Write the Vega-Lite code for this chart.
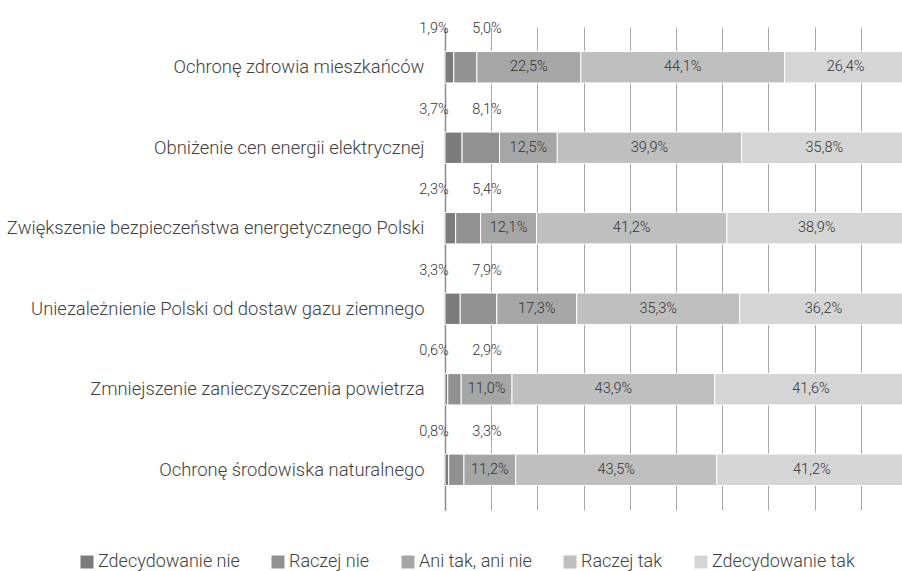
{
  "$schema": "https://vega.github.io/schema/vega-lite/v6.json",
  "autosize": "none",
  "width": 457,
  "height": 483,
  "padding": {"left": 445, "top": 27, "right": 0, "bottom": 61},
  "background": "white",
  "config": {
    "locale": {"number": {"decimal": ",", "thousands": " ", "grouping": [3], "currency": ["", " zł"]}},
    "font": "Roboto",
    "view": {"stroke": null}
  },
  "data": {
    "values": [
      {"cat": "Ochronę zdrowia mieszkańców", "answer": "Zdecydowanie nie", "k": 1, "v": 0.019},
      {"cat": "Ochronę zdrowia mieszkańców", "answer": "Raczej nie", "k": 2, "v": 0.050},
      {"cat": "Ochronę zdrowia mieszkańców", "answer": "Ani tak, ani nie", "k": 3, "v": 0.225},
      {"cat": "Ochronę zdrowia mieszkańców", "answer": "Raczej tak", "k": 4, "v": 0.441},
      {"cat": "Ochronę zdrowia mieszkańców", "answer": "Zdecydowanie tak", "k": 5, "v": 0.264},
      {"cat": "Obniżenie cen energii elektrycznej", "answer": "Zdecydowanie nie", "k": 1, "v": 0.037},
      {"cat": "Obniżenie cen energii elektrycznej", "answer": "Raczej nie", "k": 2, "v": 0.081},
      {"cat": "Obniżenie cen energii elektrycznej", "answer": "Ani tak, ani nie", "k": 3, "v": 0.125},
      {"cat": "Obniżenie cen energii elektrycznej", "answer": "Raczej tak", "k": 4, "v": 0.399},
      {"cat": "Obniżenie cen energii elektrycznej", "answer": "Zdecydowanie tak", "k": 5, "v": 0.358},
      {"cat": "Zwiększenie bezpieczeństwa energetycznego Polski", "answer": "Zdecydowanie nie", "k": 1, "v": 0.023},
      {"cat": "Zwiększenie bezpieczeństwa energetycznego Polski", "answer": "Raczej nie", "k": 2, "v": 0.054},
      {"cat": "Zwiększenie bezpieczeństwa energetycznego Polski", "answer": "Ani tak, ani nie", "k": 3, "v": 0.121},
      {"cat": "Zwiększenie bezpieczeństwa energetycznego Polski", "answer": "Raczej tak", "k": 4, "v": 0.412},
      {"cat": "Zwiększenie bezpieczeństwa energetycznego Polski", "answer": "Zdecydowanie tak", "k": 5, "v": 0.389},
      {"cat": "Uniezależnienie Polski od dostaw gazu ziemnego", "answer": "Zdecydowanie nie", "k": 1, "v": 0.033},
      {"cat": "Uniezależnienie Polski od dostaw gazu ziemnego", "answer": "Raczej nie", "k": 2, "v": 0.079},
      {"cat": "Uniezależnienie Polski od dostaw gazu ziemnego", "answer": "Ani tak, ani nie", "k": 3, "v": 0.173},
      {"cat": "Uniezależnienie Polski od dostaw gazu ziemnego", "answer": "Raczej tak", "k": 4, "v": 0.353},
      {"cat": "Uniezależnienie Polski od dostaw gazu ziemnego", "answer": "Zdecydowanie tak", "k": 5, "v": 0.362},
      {"cat": "Zmniejszenie zanieczyszczenia powietrza", "answer": "Zdecydowanie nie", "k": 1, "v": 0.006},
      {"cat": "Zmniejszenie zanieczyszczenia powietrza", "answer": "Raczej nie", "k": 2, "v": 0.029},
      {"cat": "Zmniejszenie zanieczyszczenia powietrza", "answer": "Ani tak, ani nie", "k": 3, "v": 0.110},
      {"cat": "Zmniejszenie zanieczyszczenia powietrza", "answer": "Raczej tak", "k": 4, "v": 0.439},
      {"cat": "Zmniejszenie zanieczyszczenia powietrza", "answer": "Zdecydowanie tak", "k": 5, "v": 0.416},
      {"cat": "Ochronę środowiska naturalnego", "answer": "Zdecydowanie nie", "k": 1, "v": 0.008},
      {"cat": "Ochronę środowiska naturalnego", "answer": "Raczej nie", "k": 2, "v": 0.033},
      {"cat": "Ochronę środowiska naturalnego", "answer": "Ani tak, ani nie", "k": 3, "v": 0.112},
      {"cat": "Ochronę środowiska naturalnego", "answer": "Raczej tak", "k": 4, "v": 0.435},
      {"cat": "Ochronę środowiska naturalnego", "answer": "Zdecydowanie tak", "k": 5, "v": 0.412}
    ]
  },
  "transform": [
    {"stack": "v", "groupby": ["cat"], "sort": [{"field": "k", "order": "ascending"}], "as": ["v0", "v1"]},
    {"calculate": "(datum.v0 + datum.v1) / 2", "as": "vmid"}
  ],
  "encoding": {
    "y": {
      "field": "cat",
      "type": "nominal",
      "sort": null,
      "scale": {"paddingInner": 0.61, "paddingOuter": 0.305},
      "axis": {
        "title": null,
        "domain": true,
        "domainColor": "#8c8c8c",
        "domainWidth": 1.5,
        "ticks": false,
        "grid": false,
        "labelFontSize": 18.4,
        "labelFontWeight": 300,
        "labelColor": "#404040",
        "labelPadding": 21,
        "labelLimit": 0
      }
    }
  },
  "layer": [
    {
      "mark": {"type": "bar", "stroke": "white", "strokeWidth": 1, "clip": true},
      "encoding": {
        "x": {
          "field": "v0",
          "type": "quantitative",
          "scale": {"domain": [0, 0.989], "nice": false, "zero": true},
          "axis": {
            "title": null,
            "labels": false,
            "ticks": false,
            "domain": false,
            "grid": true,
            "gridColor": "#a6a6a6",
            "gridWidth": 1,
            "values": [0, 0.1, 0.2, 0.3, 0.4, 0.5, 0.6, 0.7, 0.8, 0.9]
          }
        },
        "x2": {"field": "v1"},
        "color": {
          "field": "answer",
          "type": "nominal",
          "scale": {
            "domain": ["Zdecydowanie nie", "Raczej nie", "Ani tak, ani nie", "Raczej tak", "Zdecydowanie tak"],
            "range": ["#7b7b7b", "#919191", "#a6a6a6", "#bfbfbf", "#d5d5d5"]
          },
          "legend": {
            "title": null,
            "orient": "none",
            "legendX": -367,
            "legendY": 526,
            "direction": "horizontal",
            "symbolType": "square",
            "symbolSize": 169,
            "symbolStrokeWidth": 0,
            "labelFontSize": 18,
            "labelFontWeight": 300,
            "labelColor": "#404040",
            "labelOffset": 2,
            "columnPadding": 29,
            "labelLimit": 0
          }
        }
      }
    },
    {
      "transform": [{"filter": "datum.k >= 3"}],
      "mark": {"type": "text", "fontSize": 14.5, "fontWeight": 300, "color": "#333333", "baseline": "middle", "align": "center"},
      "encoding": {
        "x": {"field": "vmid", "type": "quantitative"},
        "text": {"field": "v", "type": "quantitative", "format": ".1%"}
      }
    },
    {
      "transform": [{"filter": "datum.k == 1"}],
      "mark": {"type": "text", "fontSize": 14.5, "fontWeight": 300, "color": "#333333", "baseline": "middle", "align": "center", "dx": -11, "dy": -38},
      "encoding": {
        "x": {"datum": 0, "type": "quantitative"},
        "text": {"field": "v", "type": "quantitative", "format": ".1%"}
      }
    },
    {
      "transform": [{"filter": "datum.k == 2"}],
      "mark": {"type": "text", "fontSize": 14.5, "fontWeight": 300, "color": "#333333", "baseline": "middle", "align": "center", "dx": 42, "dy": -38},
      "encoding": {
        "x": {"datum": 0, "type": "quantitative"},
        "text": {"field": "v", "type": "quantitative", "format": ".1%"}
      }
    }
  ]
}
